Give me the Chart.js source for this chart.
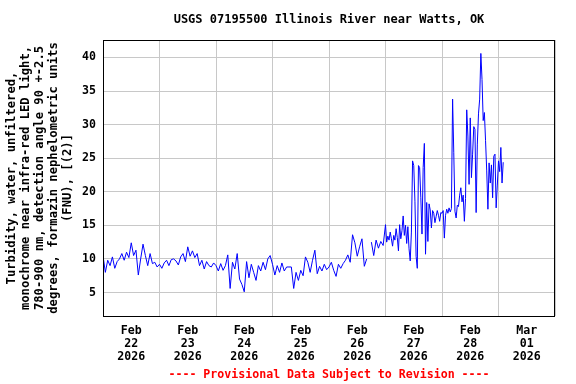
<!DOCTYPE html>
<html lang="en">
<head>
<meta charset="UTF-8">
<title>USGS 07195500 Illinois River near Watts, OK</title>
<script src="https://cdn.jsdelivr.net/npm/chart.js"></script>
<style>
  html, body { margin: 0; padding: 0; background: #fff; }
</style>
</head>
<body>
<canvas id="chart" width="576" height="384"></canvas>
<script>
// turbidity (FNU), one array per day; hourly samples, half-hourly from Feb 27 on
const feb22 = [10.5, 8.0, 9.8, 9.0, 10.3, 8.6, 9.6, 10.0, 10.8, 9.8, 11.0, 10.2, 12.4, 10.5, 11.3, 7.6, 10.0, 12.2, 10.5, 9.0, 10.8, 9.3, 9.5, 8.8];
const feb23 = [9.2, 8.6, 9.4, 9.8, 9.0, 9.9, 10.0, 9.7, 9.1, 10.3, 10.8, 9.6, 11.8, 10.4, 11.2, 10.2, 10.8, 9.0, 9.8, 8.5, 9.6, 9.0, 8.8, 9.4];
const feb24 = [9.0, 8.2, 9.3, 8.3, 9.0, 10.6, 5.6, 9.5, 8.5, 10.8, 7.0, 6.2, 5.1, 9.6, 7.2, 9.2, 8.0, 6.8, 9.0, 8.2, 9.5, 8.4, 10.0, 10.5];
const feb25 = [9.2, 7.6, 9.0, 8.0, 9.4, 8.2, 8.8, 8.8, 8.8, 5.6, 8.0, 6.8, 8.3, 7.5, 10.3, 9.5, 8.0, 9.8, 11.3, 7.8, 8.9, 8.2, 9.2, 8.4];
const feb26 = [8.8, 9.5, 8.3, 7.4, 9.2, 8.6, 9.3, 9.8, 10.6, 9.5, 13.6, 12.4, 10.4, 11.8, 13.0, 8.9, 10.0, null, 12.5, 10.5, 12.8, 11.6, 12.6, 12.0];
const feb27 = [15.1, 12.5, 13.4, 12.8, 14.0, 13.0, 11.9, 13.5, 12.8, 14.5, 13.2, 11.2, 15.1, 13.0, 14.2, 16.4,
               13.5, 15.0, 12.3, 14.8, 11.5, 9.7, 14.0, 24.6, 23.9, 18.6, 10.4, 8.6, 23.9, 23.6, 19.1, 13.7,
               23.6, 27.2, 10.7, 18.4, 12.6, 18.2, 17.3, 14.6, 17.2, 16.8, 15.4, 16.3, 17.2, 16.5, 15.6, 16.9];
const feb28 = [16.8, 17.2, 13.1, 16.5, 17.4, 16.8, 17.6, 17.0, 17.5, 33.8, 25.8, 17.1, 16.1, 18.0, 17.8, 19.5,
               20.6, 18.5, 19.5, 15.6, 19.0, 32.2, 28.3, 21.1, 31.0, 22.1, 25.6, 29.7, 29.3, 16.9, 27.1, 31.6,
               33.8, 40.6, 36.7, 30.6, 31.8, 27.6, 23.1, 17.4, 24.3, 21.3, 24.0, 19.1, 25.3, 25.6, 17.6, 21.0];
const mar01 = [24.6, 23.0, 26.6, 21.3, 24.4];

const days = [feb22, feb23, feb24, feb25, feb26, feb27, feb28, mar01];
const stepHours = [1, 1, 1, 1, 1, 0.5, 0.5, 0.5];
const dayLabels = [['Feb', '22', '2026'], ['Feb', '23', '2026'], ['Feb', '24', '2026'], ['Feb', '25', '2026'],
                   ['Feb', '26', '2026'], ['Feb', '27', '2026'], ['Feb', '28', '2026'], ['Mar', '01', '2026']];
const yTicks = [5, 10, 15, 20, 25, 30, 35, 40];

const titleText = 'USGS 07195500 Illinois River near Watts, OK';
const footerText = '---- Provisional Data Subject to Revision ----';
const yTitle = ['Turbidity, water, unfiltered,',
                'monochrome near infra-red LED light,',
                '780-900 nm, detection angle 90 +-2.5',
                'degrees, formazin nephelometric units',
                '(FNU), [(2)]'];

const points = [];
days.forEach((vals, d) => {
    vals.forEach((v, i) => points.push({ x: d * 24 + i * stepHours[d], y: v }));
});

const mono = '"DejaVu Sans Mono", "Liberation Mono", monospace';
const gridGrey = '#c8c8c8';

const framePlugin = {
    id: 'frame',
    afterDraw(chart) {
        const { ctx, chartArea: a } = chart;
        const mid = (a.left + a.right) / 2;
        ctx.save();
        ctx.strokeStyle = '#000';
        ctx.lineWidth = 1;
        ctx.strokeRect(a.left + 0.5, a.top + 0.5, a.right - a.left - 1, a.bottom - a.top);
        ctx.textAlign = 'center';
        ctx.textBaseline = 'middle';
        ctx.fillStyle = '#000';
        ctx.font = 'bold 12px ' + mono;
        ctx.fillText(titleText, mid, 20);
        ctx.fillStyle = '#ff0000';
        ctx.font = 'bold 11.6px ' + mono;
        ctx.fillText(footerText, mid, 375);
        ctx.restore();
    }
};

new Chart(document.getElementById('chart'), {
    type: 'line',
    data: {
        datasets: [{
            data: points,
            borderColor: '#0000ff',
            borderWidth: 1,
            pointRadius: 0,
            tension: 0,
            spanGaps: false
        }]
    },
    options: {
        responsive: false,
        animation: false,
        layout: { padding: { top: 40, right: 21, bottom: 0, left: 0 } },
        plugins: { legend: { display: false }, tooltip: { enabled: false } },
        scales: {
            x: {
                type: 'linear',
                min: 0,
                max: 192,
                afterBuildTicks: s => { s.ticks = Array.from({ length: 17 }, (_, k) => ({ value: k * 12 })); },
                afterFit: s => { s.height = 68; },
                grid: {
                    color: c => (c.tick && c.tick.value % 24 === 0) ? gridGrey : 'rgba(0,0,0,0)',
                    drawTicks: false
                },
                border: { display: false },
                ticks: {
                    autoSkip: false,
                    maxRotation: 0,
                    padding: 8,
                    color: '#000',
                    font: { family: mono, size: 11.6, weight: 'bold', lineHeight: 13 / 11.6 },
                    callback: v => (v % 24 === 12) ? dayLabels[(v - 12) / 24] : ''
                }
            },
            y: {
                min: 1.5,
                max: 42.6,
                afterBuildTicks: s => { s.ticks = yTicks.map(v => ({ value: v })); },
                afterFit: s => { s.width = 103; },
                grid: { color: gridGrey, drawTicks: false },
                border: { display: false },
                ticks: {
                    padding: 7,
                    color: '#000',
                    font: { family: mono, size: 11.6, weight: 'bold' }
                },
                title: {
                    display: true,
                    text: yTitle,
                    color: '#000',
                    font: { family: mono, size: 12.2, weight: 'bold', lineHeight: 14 / 12.2 },
                    padding: { top: 5, bottom: 0 }
                }
            }
        }
    },
    plugins: [framePlugin]
});
</script>
</body>
</html>
